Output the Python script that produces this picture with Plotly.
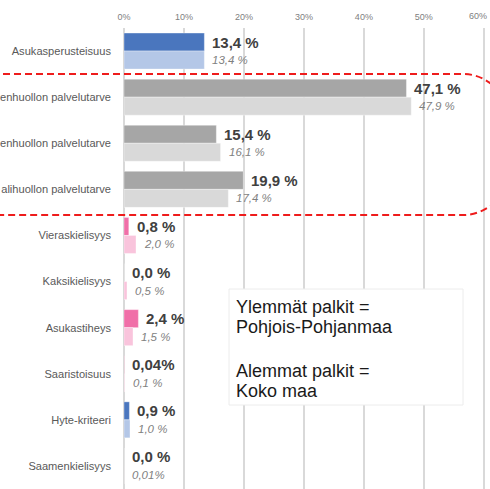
import plotly.graph_objects as go

# ---- data ----
# category labels as they are visible in the (cropped) reference
categories = [
    "Asukasperusteisuus",
    "enhuollon palvelutarve",
    "enhuollon palvelutarve",
    "alihuollon palvelutarve",
    "Vieraskielisyys",
    "Kaksikielisyys",
    "Asukastiheys",
    "Saaristoisuus",
    "Hyte-kriteeri",
    "Saamenkielisyys",
]
pohjois_pohjanmaa = [13.4, 47.1, 15.4, 19.9, 0.8, 0.0, 2.4, 0.04, 0.9, 0.0]
koko_maa = [13.4, 47.9, 16.1, 17.4, 2.0, 0.5, 1.5, 0.1, 1.0, 0.01]
pohjois_labels = ["13,4 %", "47,1 %", "15,4 %", "19,9 %", "0,8 %", "0,0 %", "2,4 %", "0,04%", "0,9 %", "0,0 %"]
koko_labels = ["13,4 %", "47,9 %", "16,1 %", "17,4 %", "2,0 %", "0,5 %", "1,5 %", "0,1 %", "1,0 %", "0,01%"]
groups = ["perus", "palvelu", "palvelu", "palvelu", "erityis", "erityis", "erityis", "erityis", "hyte", "erityis"]
x_tickvals = [0, 10, 20, 30, 40, 50, 60]
x_ticktext = ["0%", "10%", "20%", "30%", "40%", "50%", "60%"]

legend_lines = ["Ylemmät palkit =", "Pohjois-Pohjanmaa", "Alemmat palkit =", "Koko maa"]

# ---- style ----
dark_colors = {"perus": "#4a76be", "palvelu": "#a6a6a6", "erityis": "#f06fa8", "hyte": "#4a76be"}
light_colors = {"perus": "#b4c7e7", "palvelu": "#d9d9d9", "erityis": "#f9c4dc", "hyte": "#b4c7e7"}
FONT = "Liberation Sans, Arial, sans-serif"

W, H = 490, 489
ML, MR, MT, MB = 124, 5, 28, 0
PW, PH = W - ML - MR, H - MT - MB


def px_x(p):
    return (p - ML) / PW


def px_y(p):
    return 1 - (p - MT) / PH


rows = list(range(len(categories)))

fig = go.Figure()
fig.add_trace(go.Bar(
    y=rows, x=pohjois_pohjanmaa, orientation="h", name="Pohjois-Pohjanmaa",
    marker=dict(color=[dark_colors[g] for g in groups],
                line=dict(color="rgba(255,255,255,0.35)", width=1)),
    hoverinfo="skip",
))
fig.add_trace(go.Bar(
    y=rows, x=koko_maa, orientation="h", name="Koko maa",
    marker=dict(color=[light_colors[g] for g in groups],
                line=dict(color="rgba(255,255,255,0.35)", width=1)),
    hoverinfo="skip",
))

annotations = []
for i in rows:
    annotations.append(dict(
        x=pohjois_pohjanmaa[i], y=i, xref="x", yref="y", text=pohjois_labels[i],
        showarrow=False, xanchor="left", yanchor="middle", xshift=6, yshift=9,
        font=dict(family=FONT, size=15, color="#404040", weight="bold"),
    ))
    annotations.append(dict(
        x=koko_maa[i], y=i, xref="x", yref="y", text="<i>" + koko_labels[i] + "</i>",
        showarrow=False, xanchor="left", yanchor="middle", xshift=6, yshift=-9,
        font=dict(family=FONT, size=11.5, color="#7f7f7f"),
    ))

# last x tick label sits at the right edge: keep it fully inside the picture
annotations.append(dict(
    x=x_tickvals[-1], y=px_y(16), xref="x", yref="paper", text=x_ticktext[-1],
    showarrow=False, xanchor="right", yanchor="middle", xshift=5,
    font=dict(family=FONT, size=9, color="#808080"),
))

line_centers = [307, 327, 371, 391]
for txt, cy in zip(legend_lines, line_centers):
    annotations.append(dict(
        x=px_x(234), y=px_y(cy), xref="paper", yref="paper", text=txt,
        showarrow=False, xanchor="left", yanchor="middle",
        font=dict(family=FONT, size=18, color="#1a1a1a"),
    ))

# red dashed rounded outline (px coordinates -> paper)
r = 45
k = 0.552 * r
top, bot, right_x = 74, 215, 508
pts = [
    f"M {px_x(-30)},{px_y(top)}",
    f"L {px_x(right_x - r)},{px_y(top)}",
    f"C {px_x(right_x - r + k)},{px_y(top)} {px_x(right_x)},{px_y(top + r - k)} {px_x(right_x)},{px_y(top + r)}",
    f"L {px_x(right_x)},{px_y(bot - r)}",
    f"C {px_x(right_x)},{px_y(bot - r + k)} {px_x(right_x - r + k)},{px_y(bot)} {px_x(right_x - r)},{px_y(bot)}",
    f"L {px_x(-30)},{px_y(bot)}",
]

shapes = [
    dict(type="rect", xref="paper", yref="paper",
         x0=px_x(229), x1=px_x(463), y0=px_y(405), y1=px_y(289),
         fillcolor="white", line=dict(color="#ececec", width=1), layer="above"),
    dict(type="path", xref="paper", yref="paper", path=" ".join(pts),
         line=dict(color="#ee1c1c", width=2, dash="7px,4px"), layer="above"),
]

fig.update_layout(
    width=W, height=H,
    margin=dict(l=ML, r=MR, t=MT, b=MB, pad=0, autoexpand=False),
    barmode="group", bargap=0.219, bargroupgap=0,
    showlegend=False,
    plot_bgcolor="white", paper_bgcolor="white",
    font=dict(family=FONT),
    annotations=annotations,
    shapes=shapes,
    xaxis=dict(
        side="top", range=[0, 60.2], tickvals=x_tickvals,
        ticktext=x_ticktext[:-1] + [""],
        showgrid=True, gridcolor="#d9d9d9", gridwidth=1.5,
        zeroline=True, zerolinecolor="#d9d9d9", zerolinewidth=1.5,
        showline=False, ticks="", tickfont=dict(size=9, color="#808080"),
        ticklabelstandoff=5,
        fixedrange=True, automargin=False,
    ),
    yaxis=dict(
        range=[9.5, -0.5], tickvals=rows, ticktext=categories,
        showgrid=False, zeroline=False,
        showline=False, ticks="", ticklabelstandoff=12,
        tickfont=dict(size=11.1, color="#595959"), fixedrange=True,
        automargin=False,
    ),
)

fig.write_html(
    "out.html",
    config={"displayModeBar": False},
    post_script="document.body.style.margin='0';document.body.style.overflow='hidden';",
)
